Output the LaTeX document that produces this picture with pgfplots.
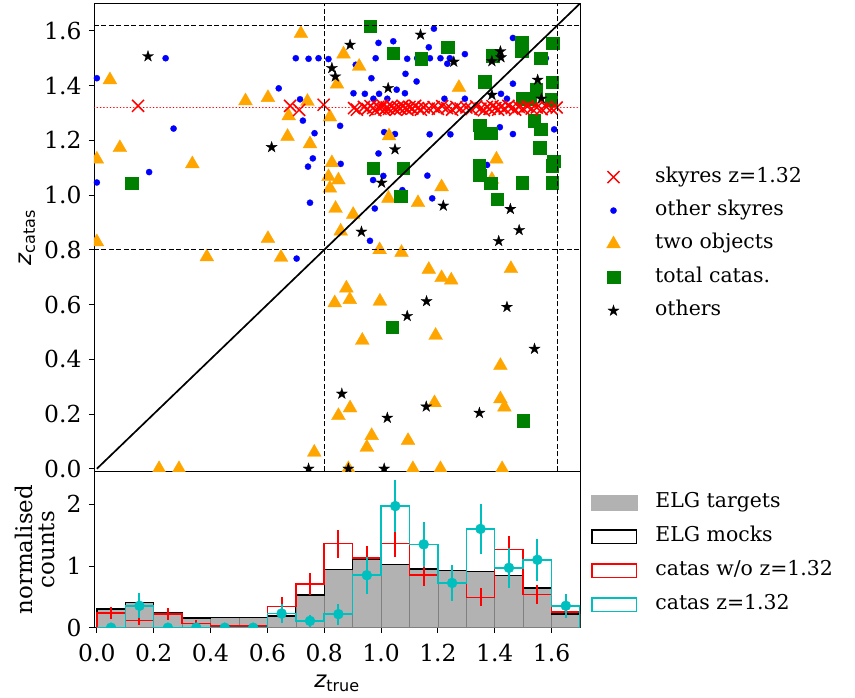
\documentclass[border=0pt]{standalone}
\usepackage{fontspec}
\setmainfont{DejaVu Serif}
\newfontfamily\dvs{DejaVu Sans}
\usepackage{pgfplots}
\pgfplotsset{compat=1.18}
\definecolor{mred}{rgb}{1,0,0}
\definecolor{mblue}{rgb}{0,0,1}
\definecolor{morange}{rgb}{1,0.647,0}
\definecolor{mgreen}{rgb}{0,0.502,0}
\definecolor{mcyan}{rgb}{0,0.75,0.75}
\definecolor{mgray}{rgb}{0.7,0.7,0.7}
\pgfdeclareplotmark{fstar}{%
 \pgfpathmoveto{\pgfpoint{0pt}{\pgfplotmarksize}}%
 \pgfpathlineto{\pgfpoint{-0.2245\pgfplotmarksize}{0.309\pgfplotmarksize}}%
 \pgfpathlineto{\pgfpoint{-0.9511\pgfplotmarksize}{0.309\pgfplotmarksize}}%
 \pgfpathlineto{\pgfpoint{-0.3633\pgfplotmarksize}{-0.118\pgfplotmarksize}}%
 \pgfpathlineto{\pgfpoint{-0.5878\pgfplotmarksize}{-0.809\pgfplotmarksize}}%
 \pgfpathlineto{\pgfpoint{0pt}{-0.382\pgfplotmarksize}}%
 \pgfpathlineto{\pgfpoint{0.5878\pgfplotmarksize}{-0.809\pgfplotmarksize}}%
 \pgfpathlineto{\pgfpoint{0.3633\pgfplotmarksize}{-0.118\pgfplotmarksize}}%
 \pgfpathlineto{\pgfpoint{0.9511\pgfplotmarksize}{0.309\pgfplotmarksize}}%
 \pgfpathlineto{\pgfpoint{0.2245\pgfplotmarksize}{0.309\pgfplotmarksize}}%
 \pgfpathclose\pgfusepathqfillstroke}
\pgfplotsset{
  common/.style={scale only axis, width=486bp, xmin=-0.01, xmax=1.7,
    tick align=outside, tick pos=left, major tick length=5bp,
    tick style={black, line width=0.9bp}, axis line style={line width=0.9bp},
    tick label style={font=\fontsize{23.5}{27}\selectfont},
    xticklabel style={yshift=-8bp},
    yticklabel style={xshift=-4bp},
    /pgf/number format/assume math mode=true,
    clip marker paths=true,
    legend cell align=left},
  mleg/.style={legend image code/.code={\path[draw=none,fill=none] (-10bp,-6bp) rectangle (41.7bp,6bp); \draw[##1] plot coordinates {(0bp,0bp)};}},
  legnodes/.style={draw=none, fill=none, inner sep=0pt, row sep=0pt, column sep=0pt,
    font=\fontsize{20.5}{24}\selectfont,
    nodes={inner xsep=0pt, inner ysep=#1, text height=15bp, text depth=5bp, anchor=west}},
}
\begin{document}
\begin{tikzpicture}
% ---------------- bottom histogram ----------------
\begin{axis}[common, name=bot, at={(0,0)}, anchor=south west, height=156.2bp,
  ymin=0, ymax=2.53, ytick={0,1,2},
  xtick={0,0.2,0.4,0.6,0.8,1.0,1.2,1.4,1.6},
  xticklabel style={/pgf/number format/.cd, fixed, fixed zerofill, precision=1},
  xlabel={{\dvs\itshape z}\textsubscript{\dvs true}},
  ylabel={normalised\\counts},
  every axis x label/.style={at={(axis description cs:0.5,0)}, anchor=base, yshift=-60bp, font=\fontsize{23}{27}\selectfont},
  every axis y label/.style={at={(axis description cs:-0.121,0.5)}, rotate=90, anchor=center, align=center, font=\fontsize{23}{22}\selectfont},
  legend style={legnodes=7bp, at={(1,0.91)}, anchor=north west, xshift=11bp},
]
\addlegendimage{legend image code/.code={\path[draw=none,fill=none] (0,0) -- (64bp,0); \fill[mgray] (0bp,-7.5bp) rectangle (46bp,7.5bp);}}
\addlegendentry{ELG targets}
\addlegendimage{legend image code/.code={\path[draw=none,fill=none] (0,0) -- (64bp,0); \draw[black, line width=1.3bp, fill=none] (0.6bp,-6.9bp) rectangle (45.4bp,6.9bp);}}
\addlegendentry{ELG mocks}
\addlegendimage{legend image code/.code={\path[draw=none,fill=none] (0,0) -- (64bp,0); \draw[mred, line width=1.3bp, fill=none] (0.6bp,-6.9bp) rectangle (45.4bp,6.9bp);}}
\addlegendentry{catas w/o z=1.32}
\addlegendimage{legend image code/.code={\path[draw=none,fill=none] (0,0) -- (64bp,0); \draw[mcyan, line width=1.3bp, fill=none] (0.6bp,-6.9bp) rectangle (45.4bp,6.9bp);}}
\addlegendentry{catas z=1.32}
% ELG targets (filled)
\addplot[forget plot, ybar interval, fill=mgray, draw=black!50, line width=0.5bp] coordinates {
 (0,0.30) (0.1,0.41) (0.2,0.245) (0.3,0.16) (0.4,0.165) (0.5,0.17) (0.6,0.19) (0.7,0.53)
 (0.8,0.94) (0.9,1.11) (1.0,1.025) (1.1,0.95) (1.2,0.925) (1.3,0.91) (1.4,0.845) (1.5,0.645)
 (1.6,0.22) (1.7,0.22)};
% ELG mocks (step)
\addplot[forget plot, const plot, mark=none, color=black, line width=1.4bp] coordinates {
 (0,0) (0,0.30) (0.1,0.41) (0.2,0.245) (0.3,0.16) (0.4,0.165) (0.5,0.17) (0.6,0.19) (0.7,0.53)
 (0.8,0.94) (0.9,1.11) (1.0,1.025) (1.1,0.95) (1.2,0.925) (1.3,0.91) (1.4,0.845) (1.5,0.645)
 (1.6,0.22) (1.7,0.22) (1.7,0)};
% catas w/o z=1.32
\addplot[forget plot, const plot, mark=none, color=mred, line width=1.5bp] coordinates {
 (0,0) (0,0.235) (0.1,0.12) (0.2,0.22) (0.3,0.07) (0.4,0.03) (0.5,0.03) (0.6,0.34) (0.7,0.71)
 (0.8,1.36) (0.9,1.13) (1.0,1.36) (1.1,0.855) (1.2,0.725) (1.3,0.49) (1.4,1.27) (1.5,0.535)
 (1.6,0.255) (1.7,0.255) (1.7,0)};
\addplot[forget plot, color=mred, only marks, mark=*, mark size=0pt, mark options={draw=none, fill=none},
  error bars/.cd, y dir=both, y explicit, error mark=none,
  error bar style={color=mred, line width=2bp}] coordinates {
 (0.05,0.235) +- (0,0.095) (0.15,0.12) +- (0,0.08) (0.25,0.22) +- (0,0.1) (0.35,0.07) +- (0,0.05)
 (0.45,0.03) +- (0,0.02) (0.55,0.03) +- (0,0.02) (0.65,0.34) +- (0,0.155) (0.75,0.71) +- (0,0.18)
 (0.85,1.36) +- (0,0.23) (0.95,1.13) +- (0,0.2) (1.05,1.36) +- (0,0.21) (1.15,0.855) +- (0,0.18)
 (1.25,0.725) +- (0,0.16) (1.35,0.49) +- (0,0.145) (1.45,1.27) +- (0,0.21) (1.55,0.535) +- (0,0.15)
 (1.65,0.255) +- (0,0.07)};
% catas z=1.32
\addplot[forget plot, const plot, mark=none, color=mcyan, line width=1.5bp] coordinates {
 (0,0) (0,0) (0.1,0.355) (0.2,0) (0.3,0) (0.4,0) (0.5,0) (0.6,0.23) (0.7,0.11)
 (0.8,0.22) (0.9,0.85) (1.0,1.97) (1.1,1.35) (1.2,0.725) (1.3,1.60) (1.4,0.97) (1.5,1.10)
 (1.6,0.355) (1.7,0.355) (1.7,0)};
\addplot[forget plot, color=mcyan, only marks, mark=*, mark size=5bp, mark options={fill=mcyan, draw=mcyan},
  error bars/.cd, y dir=both, y explicit, error mark=none,
  error bar style={color=mcyan, line width=2bp}] coordinates {
 (0.05,0) +- (0,0) (0.15,0.355) +- (0,0.2) (0.25,0) +- (0,0) (0.35,0) +- (0,0)
 (0.45,0) +- (0,0) (0.55,0) +- (0,0) (0.65,0.23) +- (0,0.15) (0.75,0.11) +- (0,0.1)
 (0.85,0.22) +- (0,0.17) (0.95,0.85) +- (0,0.3) (1.05,1.97) +- (0,0.42) (1.15,1.35) +- (0,0.37)
 (1.25,0.725) +- (0,0.29) (1.35,1.60) +- (0,0.41) (1.45,0.97) +- (0,0.32) (1.55,1.10) +- (0,0.34)
 (1.65,0.355) +- (0,0.19)};
\end{axis}
% ---------------- top scatter ----------------
\begin{axis}[common, name=top, at={(bot.north west)}, anchor=south west, height=468bp,
  ymin=-0.01, ymax=1.7, xtick=\empty,
  ytick={0,0.2,0.4,0.6,0.8,1.0,1.2,1.4,1.6},
  yticklabel style={/pgf/number format/.cd, fixed, fixed zerofill, precision=1},
  ylabel={{\dvs\itshape z}\textsubscript{\dvs catas}},
  every axis y label/.style={at={(axis description cs:-0.138,0.5)}, rotate=90, anchor=center, font=\fontsize{23}{27}\selectfont},
  legend style={legnodes=6.7bp, at={(1,0.665)}, anchor=north west, xshift=23.3bp},
]
\addlegendimage{only marks, mark=x, mred, mark size=8.5bp, line width=1.5bp, mleg}
\addlegendentry{skyres z=1.32}
\addlegendimage{only marks, mark=*, mblue, mark size=3.1bp, line width=0.3bp, mleg}
\addlegendentry{other skyres}
\addlegendimage{only marks, mark=triangle*, morange, mark size=8bp, line width=0.3bp, mleg}
\addlegendentry{two objects}
\addlegendimage{only marks, mark=square*, mgreen, mark size=6.2bp, line width=0.3bp, mleg}
\addlegendentry{total catas.}
\addlegendimage{only marks, mark=fstar, black, mark options={fill=black}, mark size=5.8bp, line width=0.3bp, mleg}
\addlegendentry{others}
% reference dotted line
\addplot[forget plot, mark=none, draw=red, line width=1.8bp, line cap=round, dash pattern=on 0.01bp off 3.3bp] coordinates {(-0.01,1.32) (1.7,1.32)};
% other skyres
\addplot[forget plot, only marks, mark=*, mblue, mark size=3.1bp, line width=0.3bp] coordinates {
 (0.0,1.427) (0.242,1.50) (0.64,1.39) (0.70,1.50) (0.745,1.498) (0.78,1.50) (0.815,1.497)
 (0.715,1.35) (0.725,1.272) (0.766,1.226) (0.27,1.243) (0.76,1.134) (0.743,1.104) (0.184,1.084)
 (0.0,1.046) (0.75,0.972) (0.703,0.768) (0.961,0.833)
 (1.186,1.608) (0.991,1.556) (1.043,1.562) (1.168,1.54) (1.464,1.574) (0.911,1.476) (0.981,1.50)
 (1.092,1.498) (1.127,1.50) (1.172,1.50) (1.209,1.50) (1.233,1.48) (1.242,1.50) (1.295,1.515)
 (1.58,1.50) (1.086,1.443) (1.125,1.415) (0.966,1.427) (1.464,1.407) (0.903,1.372) (0.943,1.37)
 (0.993,1.37) (0.973,1.352) (1.022,1.352) (1.055,1.385) (1.084,1.372) (1.223,1.352) (1.295,1.352)
 (1.422,1.37) (1.443,1.352) (0.856,1.253) (1.011,1.23) (1.049,1.223) (1.171,1.222) (1.244,1.222)
 (1.418,1.248) (1.464,1.223) (1.609,1.24) (0.858,1.114) (0.991,1.152) (1.163,1.071) (1.373,1.11)
 (1.008,1.07) (0.972,1.055) (1.075,1.018) (1.18,0.988) (0.978,0.951)};
% two objects
\addplot[forget plot, only marks, mark=triangle*, morange, mark size=8bp, line width=0.3bp] coordinates {
 (0.718,1.59) (0.046,1.421) (0.523,1.344) (0.602,1.356) (0.741,1.342) (0.675,1.289) (0.671,1.214)
 (0.75,1.187) (0.081,1.173) (0.0,1.131) (0.336,1.114) (0.82,1.285) (0.827,1.118) (0.815,1.067)
 (0.82,1.025) (0.84,0.951) (0.845,1.405) (0.0,0.829) (0.602,0.841) (0.387,0.774) (0.648,0.772)
 (0.837,0.606) (0.85,0.194) (0.765,0.06) (0.219,0) (0.289,0)
 (0.868,1.515) (0.923,1.47) (1.274,1.393) (1.028,1.216) (1.406,1.131) (0.85,1.055) (1.39,1.057)
 (1.213,1.03) (1.026,0.988) (1.13,0.972) (0.902,0.929) (0.858,0.868) (0.995,0.80) (1.072,0.79)
 (1.168,0.728) (1.213,0.698) (1.247,0.689) (1.457,0.731) (0.878,0.66) (0.89,0.618) (0.996,0.612)
 (0.934,0.469) (1.192,0.487) (1.42,0.377) (1.42,0.255) (1.434,0.225) (1.188,0.241) (0.891,0.222)
 (0.967,0.121) (0.95,0.078) (1.095,0.103) (0.885,0) (1.112,0) (1.209,0) (1.426,0)};
% total catas.
\addplot[forget plot, only marks, mark=square*, mgreen, mark size=6.2bp, line width=0.3bp] coordinates {
 (0.122,1.043) (0.961,1.617) (1.043,1.519) (1.235,1.541) (1.141,1.498) (1.393,1.509) (1.494,1.558)
 (1.494,1.525) (1.604,1.556) (1.562,1.50) (1.365,1.415) (1.601,1.413) (1.546,1.385) (1.498,1.352)
 (1.525,1.352) (1.598,1.348) (1.347,1.256) (1.35,1.226) (1.388,1.226) (1.539,1.272) (1.562,1.24)
 (1.558,1.173) (1.607,1.125) (1.601,1.107) (1.346,1.107) (1.347,1.073) (1.385,1.043) (1.496,1.046)
 (1.601,1.046) (1.408,0.985) (0.973,1.098) (1.078,1.098) (1.069,0.996) (1.04,0.518) (1.499,0.176)};
% others
\addplot[forget plot, only marks, mark=fstar, black, mark options={fill=black}, mark size=5.8bp, line width=0.3bp] coordinates {
 (0.18,1.507) (0.615,1.175) (0.827,1.464) (0.839,1.433) (1.139,1.586) (0.891,1.549) (1.256,1.487)
 (1.42,1.525) (1.39,1.489) (1.422,1.503) (1.551,1.421) (1.564,1.352) (1.025,1.391) (1.39,1.366)
 (1.049,1.167) (1.002,1.045) (1.219,0.961) (1.455,0.949) (1.486,0.872) (0.931,0.866) (1.414,0.832)
 (1.16,0.612) (1.092,0.558) (1.443,0.591) (1.54,0.438) (0.862,0.274) (1.159,0.227) (1.022,0.186)
 (1.346,0.204) (0.745,0) (0.885,0) (1.011,0)};
% skyres z=1.32
\addplot[forget plot, only marks, mark=x, mred, mark size=8.5bp, line width=1.5bp] coordinates {
 (0.145,1.326) (0.68,1.326) (0.712,1.311) (0.798,1.33)
 (0.905,1.318) (0.915,1.312) (0.94,1.322) (0.952,1.315) (0.963,1.325) (0.972,1.318) (0.98,1.31)
 (0.99,1.322) (0.998,1.316) (1.005,1.328) (1.012,1.312) (1.02,1.32) (1.028,1.315) (1.036,1.325)
 (1.044,1.318) (1.052,1.312) (1.06,1.322) (1.068,1.316) (1.076,1.326) (1.085,1.318) (1.093,1.312)
 (1.1,1.322) (1.11,1.316) (1.12,1.326) (1.13,1.318) (1.14,1.312) (1.15,1.32) (1.168,1.316)
 (1.185,1.322) (1.2,1.315) (1.215,1.325) (1.232,1.318) (1.25,1.312) (1.265,1.322) (1.28,1.316)
 (1.3,1.32) (1.318,1.314) (1.335,1.324) (1.35,1.316) (1.362,1.31) (1.372,1.322) (1.382,1.315)
 (1.392,1.325) (1.402,1.318) (1.412,1.312) (1.422,1.322) (1.435,1.316) (1.448,1.326) (1.46,1.318)
 (1.472,1.312) (1.485,1.322) (1.5,1.316) (1.515,1.324) (1.53,1.316) (1.548,1.32) (1.565,1.314)
 (1.582,1.322) (1.6,1.316) (1.618,1.32)};
% reference lines
\addplot[forget plot, mark=none, color=black, line width=1.1bp, dash pattern=on 5bp off 2.5bp] coordinates {(0.8,-0.01) (0.8,1.7)};
\addplot[forget plot, mark=none, color=black, line width=1.1bp, dash pattern=on 5bp off 2.5bp] coordinates {(1.62,-0.01) (1.62,1.7)};
\addplot[forget plot, mark=none, color=black, line width=1.1bp, dash pattern=on 5bp off 2.5bp] coordinates {(-0.01,0.8) (1.7,0.8)};
\addplot[forget plot, mark=none, color=black, line width=1.1bp, dash pattern=on 5bp off 2.5bp] coordinates {(-0.01,1.62) (1.7,1.62)};
\addplot[forget plot, mark=none, color=black, line width=1.7bp] coordinates {(0,0) (1.7,1.7)};
\end{axis}
\pgfresetboundingbox
\path (bot.south west) ++(-94bp,-70.3bp) rectangle ++(855bp,698bp);
\end{tikzpicture}
\end{document}
